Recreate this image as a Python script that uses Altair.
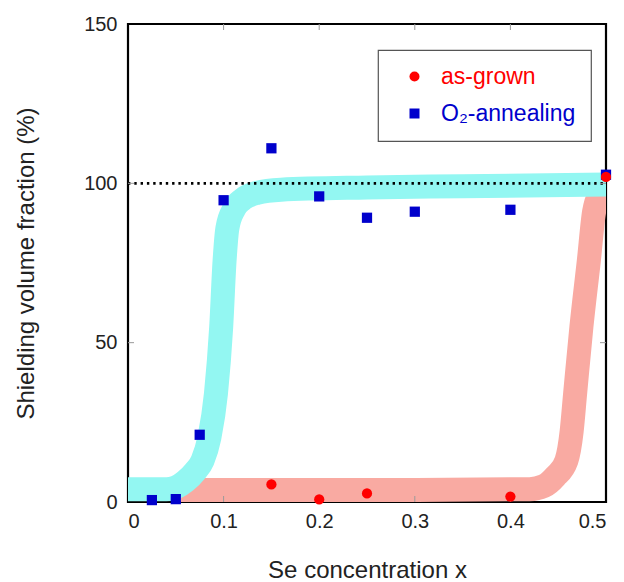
import altair as alt
import pandas as pd

# ---- data ----
series_names = ["as-grown", "O₂-annealing"]

grown_x = [0.15, 0.2, 0.25, 0.4, 0.5]
grown_y = [5.5, 0.8, 2.7, 1.7, 102.0]

anneal_x = [0.025, 0.05, 0.075, 0.1, 0.15, 0.2, 0.25, 0.3, 0.4, 0.5]
anneal_y = [0.6, 0.9, 21.1, 94.7, 111.0, 95.9, 89.2, 91.1, 91.7, 102.7]

# guide-to-the-eye bands (centre line)
cyan_x = [0.0, 0.04, 0.05, 0.06, 0.07, 0.078, 0.085, 0.092, 0.0975, 0.101, 0.104, 0.111, 0.12, 0.135, 0.16, 0.25, 0.35, 0.5]
cyan_y = [4.0, 4.0, 4.6, 6.5, 9.5, 13.0, 20.0, 34.0, 55.0, 75.6, 86.0, 92.0, 95.0, 97.0, 98.0, 98.7, 99.1, 99.6]

red_x = [0.055, 0.3, 0.42, 0.435, 0.447, 0.4586, 0.464, 0.4677, 0.4743, 0.482, 0.4875, 0.494, 0.5]
red_y = [3.8, 3.8, 4.0, 5.0, 8.0, 13.0, 22.0, 34.0, 55.0, 75.6, 91.0, 97.0, 99.5]

ref_x = [0.0, 0.5]
ref_y = [100.0, 100.0]

x_ticks = [0, 0.1, 0.2, 0.3, 0.4, 0.5]
x_minor = [0.1, 0.2, 0.3, 0.4]
y_ticks = [0, 50, 100, 150]
y_minor = [50, 100]

W, H = 478, 478
FONT = "Liberation Sans"

pts = pd.DataFrame(
    {"x": anneal_x + grown_x,
     "y": anneal_y + grown_y,
     "series": [series_names[1]] * len(anneal_x) + [series_names[0]] * len(grown_x)}
)
cyan = pd.DataFrame({"x": cyan_x, "y": cyan_y})
red = pd.DataFrame({"x": red_x, "y": red_y})
ref = pd.DataFrame({"x": ref_x, "y": ref_y})
xm = pd.DataFrame({"v": x_minor})
ym = pd.DataFrame({"v": y_minor})

xscale = alt.Scale(domain=[0, 0.5], nice=False)
yscale = alt.Scale(domain=[0, 150], nice=False)

xax = alt.Axis(values=x_ticks, format=".1~f", title="Se concentration x", grid=False,
               ticks=False, domain=False, labelPadding=9, titlePadding=27)
yax = alt.Axis(values=y_ticks, title="Shielding volume fraction (%)", grid=False,
               ticks=False, domain=False, labelPadding=11, titlePadding=45)

red_band = alt.Chart(red).mark_line(
    color="#F9AAA2", strokeWidth=24, strokeCap="butt", strokeJoin="round",
    interpolate="monotone", clip=True
).encode(x=alt.X("x:Q", scale=xscale, axis=xax), y=alt.Y("y:Q", scale=yscale, axis=yax))

cyan_band = alt.Chart(cyan).mark_line(
    color="#93F7F2", strokeWidth=24, strokeCap="butt", strokeJoin="round",
    interpolate="monotone", clip=True
).encode(x=alt.X("x:Q", scale=xscale), y=alt.Y("y:Q", scale=yscale))

dotted = alt.Chart(ref).mark_line(
    color="black", strokeWidth=2.6, strokeDash=[2.4, 3.9], clip=True
).encode(x=alt.X("x:Q", scale=xscale), y=alt.Y("y:Q", scale=yscale))

tick_style = dict(color="#9a9a9a", strokeWidth=1)
bottom_ticks = alt.Chart(xm).mark_rule(**tick_style).encode(
    x=alt.X("v:Q", scale=xscale), y=alt.value(H), y2=alt.value(H - 6))
top_ticks = alt.Chart(xm).mark_rule(**tick_style).encode(
    x=alt.X("v:Q", scale=xscale), y=alt.value(0), y2=alt.value(6))
left_ticks = alt.Chart(ym).mark_rule(**tick_style).encode(
    y=alt.Y("v:Q", scale=yscale), x=alt.value(0), x2=alt.value(6))
right_ticks = alt.Chart(ym).mark_rule(**tick_style).encode(
    y=alt.Y("v:Q", scale=yscale), x=alt.value(W), x2=alt.value(W - 6))

legend = alt.Legend(
    title=None, orient="none", legendX=250, legendY=26,
    strokeColor="#555555", fillColor="white",
    padding=15, symbolOffset=10, symbolSize=100, labelOffset=15,
    rowPadding=13, labelFontSize=23, labelFont=FONT,
    labelColor=alt.ExprRef("datum.label == 'as-grown' ? '#ff0000' : '#0000cc'"),
)

points = alt.Chart(pts).mark_point(filled=True, opacity=1, size=105).encode(
    x=alt.X("x:Q", scale=xscale),
    y=alt.Y("y:Q", scale=yscale),
    color=alt.Color("series:N",
                    scale=alt.Scale(domain=series_names, range=["#ff0000", "#0000cc"]),
                    legend=legend),
    shape=alt.Shape("series:N",
                    scale=alt.Scale(domain=series_names, range=["circle", "square"]),
                    legend=legend),
)

chart = alt.layer(
    red_band, cyan_band, dotted, bottom_ticks, top_ticks, left_ticks, right_ticks, points
).properties(
    width=W, height=H,
    padding={"left": 120, "top": 16, "right": 8, "bottom": 80},
    autosize=alt.AutoSizeParams(type="none"),
).configure_view(
    stroke="black", strokeWidth=2.2
).configure_legend(
    strokeWidth=1.2
).configure_axis(
    labelFont=FONT, titleFont=FONT, labelFontSize=20, titleFontSize=24,
    labelColor="#222222", titleColor="#222222", titleFontWeight="normal",
)

chart.save("out.html", embed_options={"renderer": "svg", "actions": False})
